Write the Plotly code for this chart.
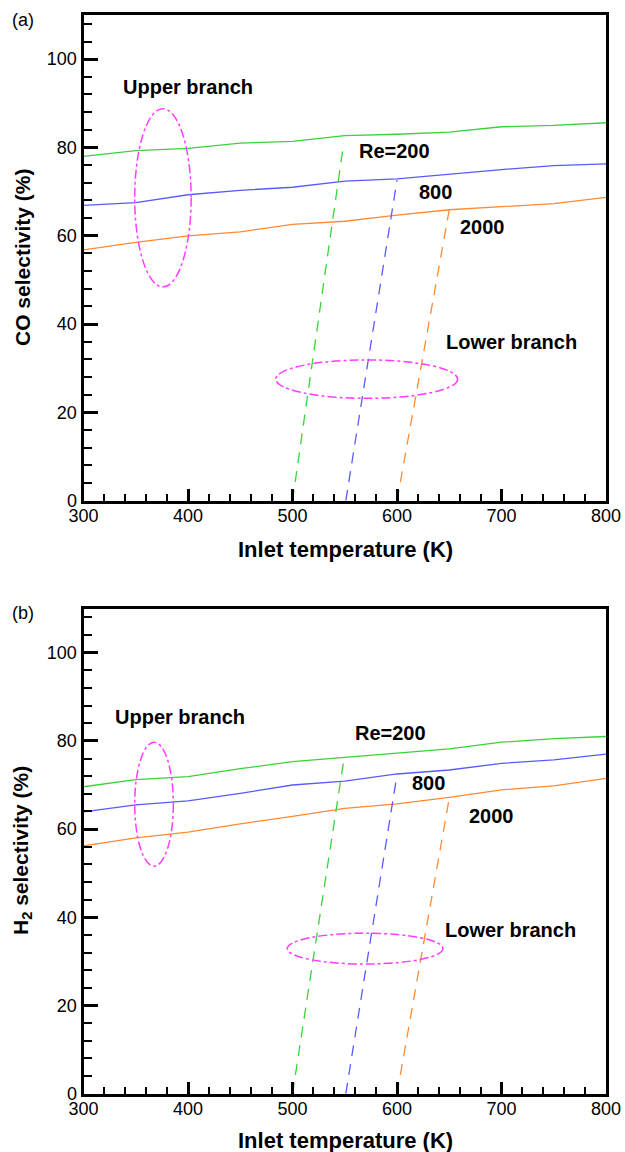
import plotly.graph_objects as go

# ---------------- data ----------------
temps = [300, 350, 400, 450, 500, 550, 600, 650, 700, 750, 800]

co_re200 = [78.0, 79.3, 79.8, 81.0, 81.4, 82.7, 83.0, 83.5, 84.7, 85.0, 85.6]
co_re800 = [66.9, 67.5, 69.3, 70.3, 71.0, 72.4, 72.9, 74.0, 75.0, 75.9, 76.3]
co_re2000 = [56.8, 58.5, 60.0, 60.9, 62.6, 63.3, 64.7, 65.9, 66.6, 67.3, 68.7]

h2_re200 = [69.6, 71.2, 71.9, 73.7, 75.3, 76.3, 77.3, 78.2, 79.7, 80.5, 81.0]
h2_re800 = [63.9, 65.5, 66.4, 68.1, 70.0, 70.9, 72.5, 73.4, 74.9, 75.7, 77.0]
h2_re2000 = [56.2, 58.0, 59.3, 61.2, 62.9, 64.7, 65.7, 67.2, 68.9, 69.8, 71.5]

# lower (unstable) branches: start / end points
co_low_re200_x = [500, 549]
co_low_re200_y = [0, 81.0]
co_low_re800_x = [551, 600]
co_low_re800_y = [0, 72.6]
co_low_re2000_x = [600, 650]
co_low_re2000_y = [0, 65.9]

h2_low_re200_x = [500, 549]
h2_low_re200_y = [0, 75.5]
h2_low_re800_x = [551, 600]
h2_low_re800_y = [0, 72.3]
h2_low_re2000_x = [600, 650]
h2_low_re2000_y = [0, 67.0]

x_ticks = [300, 400, 500, 600, 700, 800]
y_ticks = [0, 20, 40, 60, 80, 100]

GREEN = "#3ad23a"
BLUE = "#5a5aff"
ORANGE = "#ff8a33"
MAGENTA = "#ff3cff"
FONT = "Liberation Sans, Arial, sans-serif"

fig = go.Figure()

def add_panel(xa, ya, up, low):
    cols = [GREEN, BLUE, ORANGE]
    for ys, c in zip(up, cols):
        fig.add_trace(go.Scatter(x=temps, y=ys, mode="lines", xaxis=xa, yaxis=ya,
                                 line=dict(color=c, width=1.3), showlegend=False, hoverinfo="skip"))
    for (lx, ly), c in zip(low, cols):
        fig.add_trace(go.Scatter(x=lx, y=ly, mode="lines", xaxis=xa, yaxis=ya,
                                 line=dict(color=c, width=1.3, dash="11px,8px"),
                                 showlegend=False, hoverinfo="skip"))

add_panel("x", "y", [co_re200, co_re800, co_re2000],
          [(co_low_re200_x, co_low_re200_y), (co_low_re800_x, co_low_re800_y),
           (co_low_re2000_x, co_low_re2000_y)])
add_panel("x2", "y2", [h2_re200, h2_re800, h2_re2000],
          [(h2_low_re200_x, h2_low_re200_y), (h2_low_re800_x, h2_low_re800_y),
           (h2_low_re2000_x, h2_low_re2000_y)])

W, H = 625, 1152
xdom = [83.5 / W, 606 / W]
top_dom = [1 - 500.8 / H, 1 - 15 / H]
bot_dom = [1 - 1093.7 / H, 1 - 608.6 / H]

def xaxis_cfg(anchor):
    return dict(domain=xdom, anchor=anchor, range=[300, 800], tickvals=x_ticks,
                ticks="inside", ticklen=12, tickwidth=2.5, tickcolor="black",
                minor=dict(ticks="inside", ticklen=7, tickwidth=1.5, dtick=20, tickcolor="black"),
                showline=True, linewidth=3, linecolor="black", mirror=True,
                showgrid=False, zeroline=False, automargin=False, ticklabelstandoff=-3,
                tickfont=dict(family=FONT, size=18, color="black"))

def yaxis_cfg(anchor, dom):
    return dict(domain=dom, anchor=anchor, range=[0, 110], tickvals=y_ticks,
                ticks="inside", ticklen=14, tickwidth=2.5, tickcolor="black",
                minor=dict(ticks="inside", ticklen=8, tickwidth=1.5, dtick=4, tickcolor="black"),
                showline=True, linewidth=3, linecolor="black", mirror=True,
                showgrid=False, zeroline=False, automargin=False,
                tickfont=dict(family=FONT, size=18, color="black"))

ann = []
def txt(x, y, t, xref, yref, size=20, bold=True, xanchor="left", yanchor="middle", angle=0):
    ann.append(dict(x=x, y=y, xref=xref, yref=yref, text=(f"<b>{t}</b>" if bold else t),
                    showarrow=False, xanchor=xanchor, yanchor=yanchor, textangle=angle,
                    font=dict(family=FONT, size=size, color="black")))

# panel (a)
txt(335.6, 93.8, "Upper branch", "x", "y")
txt(561.7, 79.2, "Re=200", "x", "y")
txt(618.9, 70.0, "800", "x", "y")
txt(658.4, 61.9, "2000", "x", "y")
txt(645.0, 36.0, "Lower branch", "x", "y")
# panel (b)
txt(328.2, 85.5, "Upper branch", "x2", "y2")
txt(557.9, 81.7, "Re=200", "x2", "y2")
txt(612.4, 70.4, "800", "x2", "y2")
txt(666.7, 63.0, "2000", "x2", "y2")
txt(643.7, 37.1, "Lower branch", "x2", "y2")

# panel labels
txt(10 / W, 1 - 20 / H, "(a)", "paper", "paper", size=18, bold=False)
txt(10 / W, 1 - 613 / H, "(b)", "paper", "paper", size=18, bold=False)

# axis titles
txt(345 / W, 1 - 549 / H, "Inlet temperature (K)", "paper", "paper", size=22, xanchor="center")
txt(345 / W, 1 - 1140 / H, "Inlet temperature (K)", "paper", "paper", size=22, xanchor="center")
txt(22 / W, 1 - 258 / H, "CO selectivity (%)", "paper", "paper", size=21, xanchor="center", angle=-90)
txt(22 / W, 1 - 851 / H, "H<sub>2</sub> selectivity (%)", "paper", "paper", size=21, xanchor="center", angle=-90)

shapes = []
def ellipse(xref, yref, x0, x1, y0, y1):
    shapes.append(dict(type="circle", xref=xref, yref=yref, x0=x0, x1=x1, y0=y0, y1=y1,
                       line=dict(color=MAGENTA, width=1.5, dash="dashdot")))

ellipse("x", "y", 349, 403, 48.4, 88.8)
ellipse("x", "y", 484, 658, 23.2, 31.9)
ellipse("x2", "y2", 349, 386, 51.6, 79.7)
ellipse("x2", "y2", 495, 644, 29.4, 36.4)

fig.update_layout(
    width=W, height=H, margin=dict(l=0, r=0, t=0, b=0),
    paper_bgcolor="white", plot_bgcolor="white",
    xaxis=xaxis_cfg("y"), yaxis=yaxis_cfg("x", top_dom),
    xaxis2=xaxis_cfg("y2"), yaxis2=yaxis_cfg("x2", bot_dom),
    annotations=ann, shapes=shapes, showlegend=False,
)

fig.write_html("out.html")
